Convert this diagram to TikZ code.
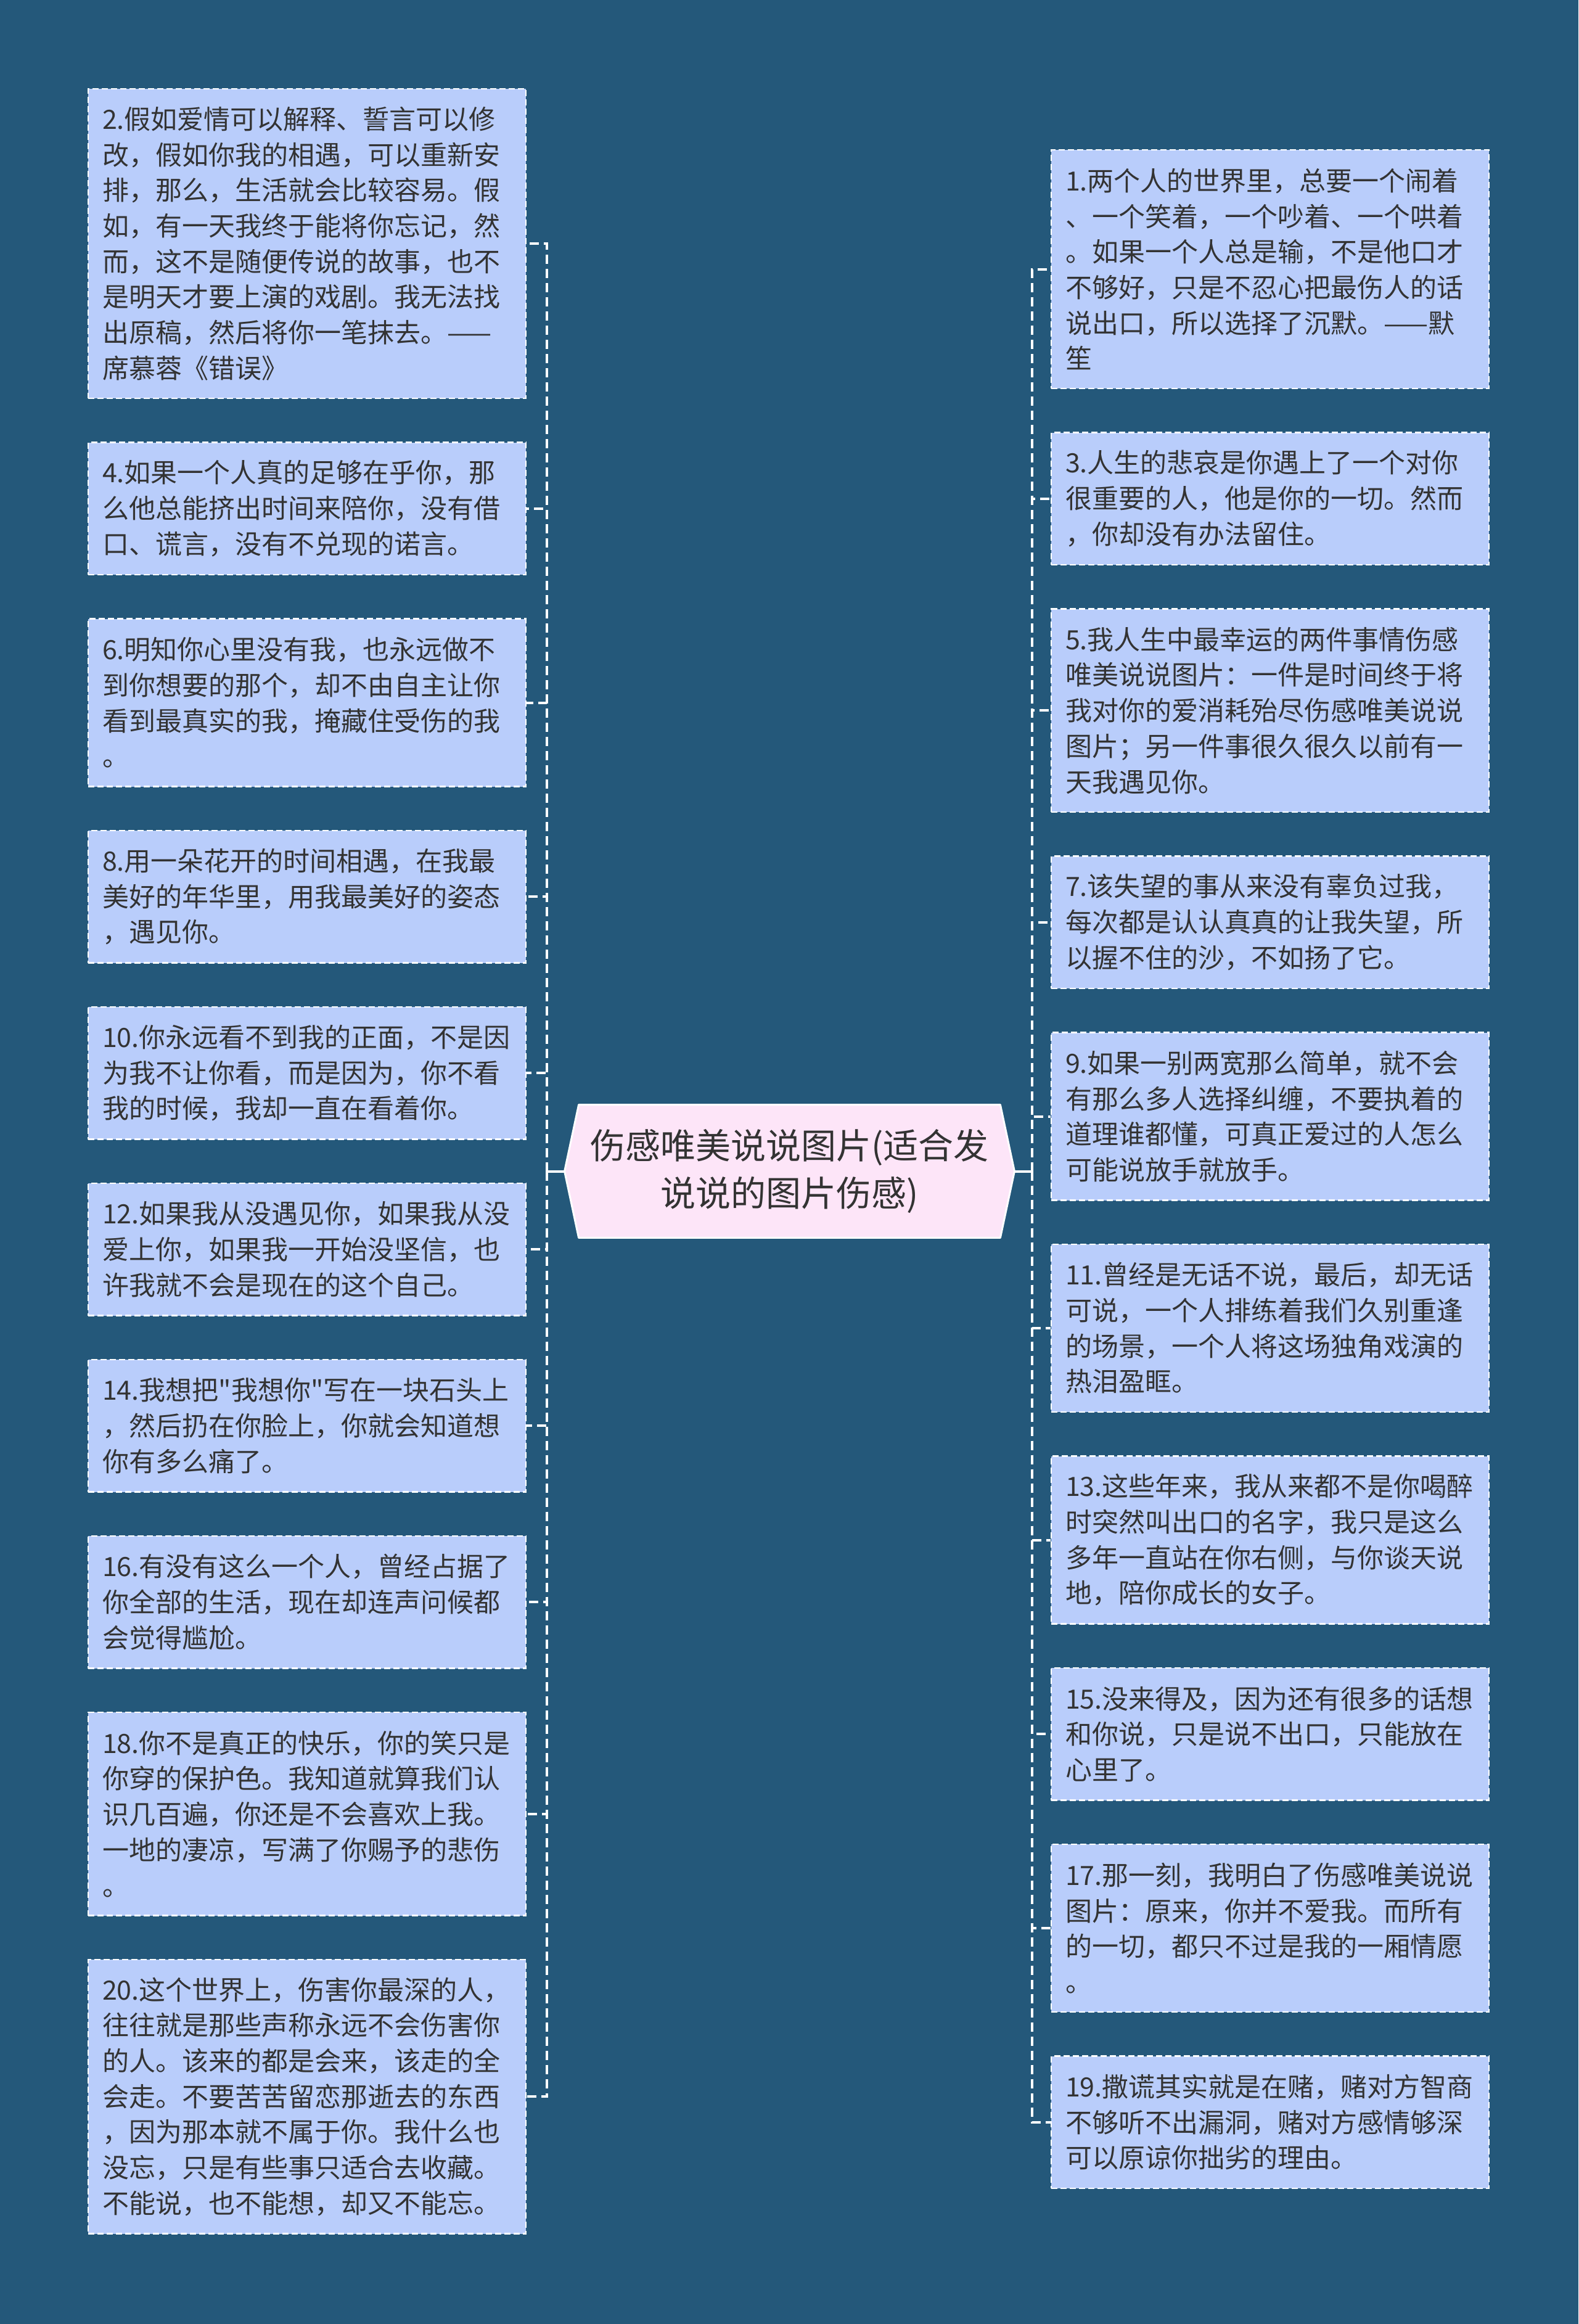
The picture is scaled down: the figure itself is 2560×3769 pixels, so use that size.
\documentclass[tikz,border=0pt]{standalone}
\usepackage{fontspec}
\newfontfamily\cjk{Noto Sans CJK SC}
\usetikzlibrary{backgrounds}
\pgfdeclarelayer{bglayer}
\pgfdeclarelayer{hexlayer}
\pgfsetlayers{bglayer,hexlayer,main}
\definecolor{bgc}{HTML}{24587A}
\definecolor{boxc}{HTML}{B9CDFB}
\definecolor{ctrc}{HTML}{FDE5F8}
\definecolor{txtc}{HTML}{333333}
\newdimen\uu \uu=0.5pt
\tikzset{
  leaf/.style={draw=white, fill=boxc, dash pattern=on 5pt off 2.5pt, line width=1.2pt,
    text=txtc, text width=664\uu, inner xsep=23\uu, inner ysep=4\uu, minimum width=710\uu,
    align=left, font=\cjk\fontsize{21.5pt}{28.85pt}\selectfont},
  conn/.style={draw=white, line width=2pt, dash pattern=on 7.5pt off 4pt},
  trunk/.style={draw=white, line width=2pt},
  centre/.style={text=txtc, align=center, minimum width=729\uu, minimum height=215\uu,
    inner sep=0pt, font=\cjk\fontsize{28.5pt}{38.5pt}\selectfont},
}
\begin{document}
\begin{tikzpicture}[x=0.5pt, y=-0.5pt]
\useasboundingbox (0,0) rectangle (2560,3769);
\begin{pgfonlayer}{bglayer}
\fill[bgc] (0,0) rectangle (2560,3769);
\end{pgfonlayer}

% centre node
\node[centre] (ct) at (1280.5,1899.5) {伤感唯美说说图片(适合发\\说说的图片伤感)};
\begin{pgfonlayer}{hexlayer}
\draw[white, line width=1.5pt, fill=ctrc, line join=round]
  (ct.west) -- ([xshift=23\uu]ct.north west) -- ([xshift=-23\uu]ct.north east)
  -- (ct.east) -- ([xshift=-23\uu]ct.south east) -- ([xshift=23\uu]ct.south west) -- cycle;
\end{pgfonlayer}

% left column
\node[leaf, minimum height=502\uu] (b2) at (498,395) {2.假如爱情可以解释、誓言可以修\\改，假如你我的相遇，可以重新安\\排，那么，生活就会比较容易。假\\如，有一天我终于能将你忘记，然\\而，这不是随便传说的故事，也不\\是明天才要上演的戏剧。我无法找\\出原稿，然后将你一笔抹去。——\\席慕蓉《错误》};
\node[leaf, minimum height=214.5\uu] (b4) at (498,824.75) {4.如果一个人真的足够在乎你，那\\么他总能挤出时间来陪你，没有借\\口、谎言，没有不兑现的诺言。};
\node[leaf, minimum height=272\uu] (b6) at (498,1139.5) {6.明知你心里没有我，也永远做不\\到你想要的那个，却不由自主让你\\看到最真实的我，掩藏住受伤的我\\。};
\node[leaf, minimum height=214.5\uu] (b8) at (498,1454.25) {8.用一朵花开的时间相遇，在我最\\美好的年华里，用我最美好的姿态\\，遇见你。};
\node[leaf, minimum height=214.5\uu] (b10) at (498,1740.25) {10.你永远看不到我的正面，不是因\\为我不让你看，而是因为，你不看\\我的时候，我却一直在看着你。};
\node[leaf, minimum height=214.5\uu] (b12) at (498,2026.25) {12.如果我从没遇见你，如果我从没\\爱上你，如果我一开始没坚信，也\\许我就不会是现在的这个自己。};
\node[leaf, minimum height=214.5\uu] (b14) at (498,2312.25) {14.我想把"我想你"写在一块石头上\\，然后扔在你脸上，你就会知道想\\你有多么痛了。};
\node[leaf, minimum height=214.5\uu] (b16) at (498,2598.25) {16.有没有这么一个人，曾经占据了\\你全部的生活，现在却连声问候都\\会觉得尴尬。};
\node[leaf, minimum height=329.5\uu] (b18) at (498,2941.75) {18.你不是真正的快乐，你的笑只是\\你穿的保护色。我知道就算我们认\\识几百遍，你还是不会喜欢上我。\\一地的凄凉，写满了你赐予的悲伤\\。};
\node[leaf, minimum height=444.5\uu] (b20) at (498,3400.25) {20.这个世界上，伤害你最深的人，\\往往就是那些声称永远不会伤害你\\的人。该来的都是会来，该走的全\\会走。不要苦苦留恋那逝去的东西\\，因为那本就不属于你。我什么也\\没忘，只是有些事只适合去收藏。\\不能说，也不能想，却又不能忘。};

% right column
\node[leaf, minimum height=387\uu] (b1) at (2060,436.5) {1.两个人的世界里，总要一个闹着\\、一个笑着，一个吵着、一个哄着\\。如果一个人总是输，不是他口才\\不够好，只是不忍心把最伤人的话\\说出口，所以选择了沉默。——默\\笙};
\node[leaf, minimum height=214.5\uu] (b3) at (2060,808.75) {3.人生的悲哀是你遇上了一个对你\\很重要的人，他是你的一切。然而\\，你却没有办法留住。};
\node[leaf, minimum height=329.5\uu] (b5) at (2060,1152.25) {5.我人生中最幸运的两件事情伤感\\唯美说说图片：一件是时间终于将\\我对你的爱消耗殆尽伤感唯美说说\\图片；另一件事很久很久以前有一\\天我遇见你。};
\node[leaf, minimum height=214.5\uu] (b7) at (2060,1495.75) {7.该失望的事从来没有辜负过我，\\每次都是认认真真的让我失望，所\\以握不住的沙，不如扬了它。};
\node[leaf, minimum height=272\uu] (b9) at (2060,1810.5) {9.如果一别两宽那么简单，就不会\\有那么多人选择纠缠，不要执着的\\道理谁都懂，可真正爱过的人怎么\\可能说放手就放手。};
\node[leaf, minimum height=272\uu] (b11) at (2060,2154) {11.曾经是无话不说，最后，却无话\\可说，一个人排练着我们久别重逢\\的场景，一个人将这场独角戏演的\\热泪盈眶。};
\node[leaf, minimum height=272\uu] (b13) at (2060,2497.5) {13.这些年来，我从来都不是你喝醉\\时突然叫出口的名字，我只是这么\\多年一直站在你右侧，与你谈天说\\地，陪你成长的女子。};
\node[leaf, minimum height=214.5\uu] (b15) at (2060,2812.25) {15.没来得及，因为还有很多的话想\\和你说，只是说不出口，只能放在\\心里了。};
\node[leaf, minimum height=272\uu] (b17) at (2060,3127) {17.那一刻，我明白了伤感唯美说说\\图片：原来，你并不爱我。而所有\\的一切，都只不过是我的一厢情愿\\。};
\node[leaf, minimum height=214.5\uu] (b19) at (2060,3441.75) {19.撒谎其实就是在赌，赌对方智商\\不够听不出漏洞，赌对方感情够深\\可以原谅你拙劣的理由。};

% trunks
\coordinate (lt) at (887,1899.5);
\coordinate (rt) at (1674,1899.5);
\draw[trunk] (ct.west) -- (lt);
\draw[trunk] (ct.east) -- (rt);
\foreach \b in {b2,b4,b6,b8,b10,b12,b14,b16,b18,b20}
  \draw[conn] (lt) |- (\b.east);
\foreach \b in {b1,b3,b5,b7,b9,b11,b13,b15,b17,b19}
  \draw[conn] (rt) |- (\b.west);
\end{tikzpicture}
\end{document}
